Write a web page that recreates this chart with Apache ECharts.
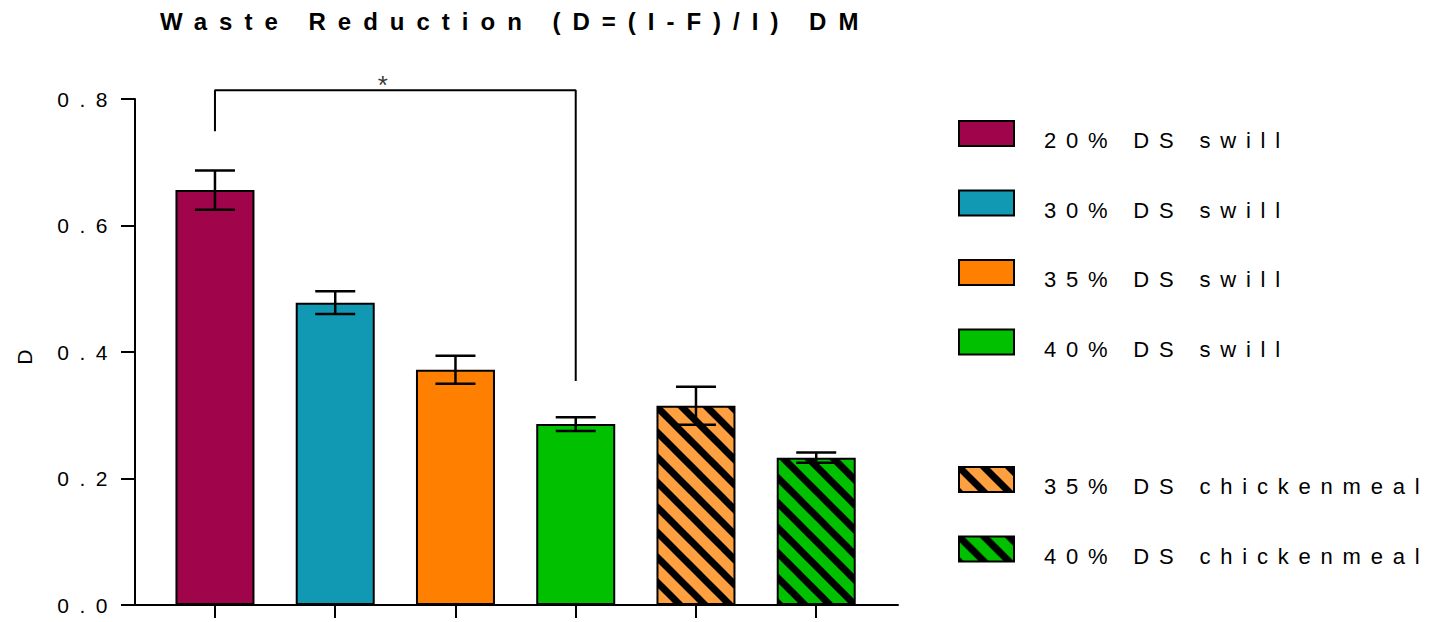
<!DOCTYPE html>
<html>
<head>
<meta charset="utf-8">
<script src="https://cdn.jsdelivr.net/npm/echarts@6/dist/echarts.min.js"></script>
<style>
html,body{margin:0;padding:0;background:#fff;}
#chart{width:1440px;height:622px;}
#chart svg text{letter-spacing:0.5em;}
</style>
</head>
<body>
<div id="chart"></div>
<script>
// ---- data ----
const categories = ['20% DS swill','30% DS swill','35% DS swill','40% DS swill','35% DS chickenmeal','40% DS chickenmeal'];
const means = [0.656, 0.478, 0.372, 0.286, 0.315, 0.233];
const errors = [0.031, 0.018, 0.022, 0.011, 0.030, 0.008];
const colors = ['#A0044A','#1198B3','#FF8000','#00C000','#FFA040','#00C000'];
const hatched = [false,false,false,false,true,true];
const yTicks = [0, 0.2, 0.4, 0.6, 0.8];
const bracketX = [0, 0, 3, 3];
const bracketY = [0.749, 0.814, 0.814, 0.354];
const starPos = [1.45, 0.822];

const FONT = "'Liberation Sans', Arial, sans-serif";

function hatchPattern(bg){
  const P = 25;
  const c = document.createElement('canvas');
  c.width = P; c.height = P;
  const ctx = c.getContext('2d');
  ctx.fillStyle = bg; ctx.fillRect(0,0,P,P);
  ctx.strokeStyle = '#000'; ctx.lineWidth = 7; ctx.lineCap = 'square';
  for (let k=-1;k<=1;k++){
    ctx.beginPath();
    ctx.moveTo(-5, -5 + k*P);
    ctx.lineTo(P+5, P+5 + k*P);
    ctx.stroke();
  }
  return {image: c, repeat: 'repeat'};
}

const chart = echarts.init(document.getElementById('chart'), null, {renderer:'svg'});

const series = categories.map((name,i)=>({
  name: name,
  type: 'bar',
  data: [[i, means[i]]],
  barWidth: 79,
  barGap: '-100%',
  itemStyle: {
    color: hatched[i] ? hatchPattern(colors[i]) : colors[i],
    borderColor: '#000',
    borderWidth: 2
  },
  emphasis: {disabled: true},
  z: 2
}));

series.push({
  name: 'err',
  type: 'custom',
  data: means.map((m,i)=>[i, m, errors[i]]),
  renderItem: function(params, api){
    const x = api.value(0), m = api.value(1), e = api.value(2);
    const hi = api.coord([x, m+e]);
    const lo = api.coord([x, m-e]);
    const hw = 20;
    const st = {stroke:'#000', lineWidth:2.5};
    return {type:'group', children:[
      {type:'line', shape:{x1:hi[0],y1:hi[1],x2:lo[0],y2:lo[1]}, style:st},
      {type:'line', shape:{x1:hi[0]-hw,y1:hi[1],x2:hi[0]+hw,y2:hi[1]}, style:st},
      {type:'line', shape:{x1:lo[0]-hw,y1:lo[1],x2:lo[0]+hw,y2:lo[1]}, style:st}
    ]};
  },
  z: 5,
  silent: true
});

series.push({
  name: 'bracket',
  type: 'line',
  data: bracketX.map((x,i)=>[x, bracketY[i]]),
  symbol: 'none',
  clip: false,
  lineStyle: {color:'#000', width:2},
  silent: true,
  z: 5
});

series.push({
  name: 'star',
  type: 'scatter',
  data: [starPos],
  symbolSize: 0,
  clip: false,
  label: {show:true, formatter:'*', position:'inside', color:'#000', fontSize:26, fontFamily: FONT},
  silent: true
});

const legendCommon = {
  orient: 'vertical',
  left: 958,
  padding: 0,
  itemWidth: 55, itemHeight: 25, itemGap: 38,
  icon: 'rect',
  itemStyle: {borderColor:'#000', borderWidth:2},
  formatter: name => '{n|' + name + '}',
  textStyle: {
    fontFamily: FONT, fontSize:22, color:'#000',
    rich: {n: {fontFamily: FONT, fontSize:22, color:'#000', padding:[14,0,0,25]}}
  },
  selectedMode: false
};

const option = {
  animation: false,
  backgroundColor: '#fff',
  title: {
    text: 'Waste Reduction (D=(I-F)/I) DM',
    left: 160, top: 9, padding: 0,
    textStyle: {fontFamily: FONT, fontWeight:'bold', fontSize:24, color:'#000'}
  },
  legend: [
    Object.assign({}, legendCommon, {data: categories.slice(0,4), top: 120}),
    Object.assign({}, legendCommon, {data: categories.slice(4), top: 466})
  ],
  grid: {left:135, top:99, right:542, bottom:17, containLabel:false},
  xAxis: {
    type: 'value',
    min: -0.665, max: 5.68,
    splitLine: {show:false},
    axisLine: {show:true, onZero:false, lineStyle:{color:'#000', width:2}},
    axisTick: {show:true, customValues:[0,1,2,3,4,5], length:13, inside:false, lineStyle:{color:'#000', width:2}},
    axisLabel: {show:false}
  },
  yAxis: {
    type: 'value',
    min: 0, max: 0.8, interval: 0.2,
    name: 'D',
    nameLocation: 'middle',
    nameGap: 100,
    nameRotate: 90,
    nameTextStyle: {fontFamily: FONT, fontSize:21, color:'#000'},
    splitLine: {show:false},
    axisLine: {show:true, onZero:false, lineStyle:{color:'#000', width:2}},
    axisTick: {show:true, length:14, lineStyle:{color:'#000', width:2}},
    axisLabel: {
      fontFamily: FONT, fontSize:21, color:'#000', margin:17,
      customValues: yTicks,
      formatter: v => v.toFixed(1)
    }
  },
  series: series
};

function tuneSpacing(){
  document.querySelectorAll('#chart svg text').forEach(t => {
    if (categories.indexOf(t.textContent) >= 0) t.style.letterSpacing = '9.8px';
  });
}
chart.on('finished', tuneSpacing);
chart.setOption(option);
tuneSpacing();
</script>
</body>
</html>
